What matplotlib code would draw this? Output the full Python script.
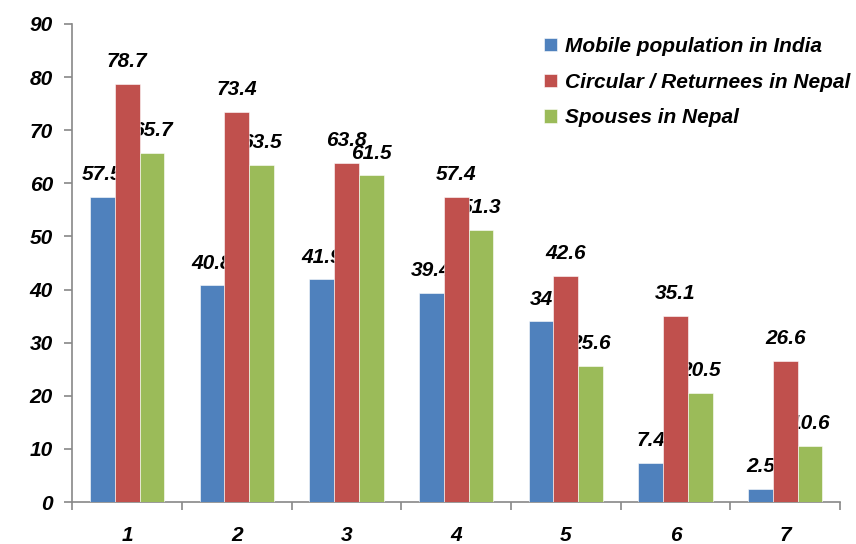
import numpy as np
import matplotlib
matplotlib.use("Agg")
import matplotlib.pyplot as plt

plt.rcParams['font.family'] = ['Liberation Sans', 'DejaVu Sans']

categories = ['1', '2', '3', '4', '5', '6', '7']
series_names = ['Mobile population in India',
                'Circular / Returnees in Nepal',
                'Spouses in Nepal']
mobile_india = [57.5, 40.8, 41.9, 39.4, 34, 7.4, 2.5]
returnees_nepal = [78.7, 73.4, 63.8, 57.4, 42.6, 35.1, 26.6]
spouses_nepal = [65.7, 63.5, 61.5, 51.3, 25.6, 20.5, 10.6]
colors = ['#4F81BD', '#C0504D', '#9BBB59']

fig = plt.figure(figsize=(8.56, 5.44), dpi=100)
ax = fig.add_axes([0.0845, 0.0772, 0.9813 - 0.0845, 0.9559 - 0.0772])

x = np.arange(len(categories))
width = 0.226
values = [mobile_india, returnees_nepal, spouses_nepal]

for i, (vals, name, c) in enumerate(zip(values, series_names, colors)):
    pos = x + (i - 1) * width
    ax.bar(pos, vals, width, color=c, label=name, zorder=3,
           edgecolor='white', linewidth=0.4)
    # value labels sit behind the bars, like the original
    for xp, v in zip(pos, vals):
        ax.annotate('%g' % v, (xp, v), xytext=(0, 16),
                    textcoords='offset points', ha='center', va='center',
                    fontsize=15, fontweight='bold', fontstyle='italic',
                    zorder=1)

ax.set_xlim(-0.5, len(categories) - 0.5)
ax.set_ylim(0, 90)
ax.set_yticks(range(0, 91, 10))

ax.set_xticks(x)
ax.set_xticklabels(categories)
ax.set_xticks(np.arange(-0.5, len(categories), 1.0), minor=True)
ax.tick_params(axis='x', which='major', length=0, pad=17)
ax.tick_params(axis='x', which='minor', length=6, color='#888888', width=1.2)
ax.tick_params(axis='y', length=6, color='#888888', width=1.2, pad=8)

for lab in ax.get_xticklabels() + ax.get_yticklabels():
    lab.set_fontsize(15)
    lab.set_fontweight('bold')
    lab.set_fontstyle('italic')

for s in ['top', 'right']:
    ax.spines[s].set_visible(False)
for s in ['left', 'bottom']:
    ax.spines[s].set_color('#888888')
    ax.spines[s].set_linewidth(1.2)

leg = ax.legend(loc='upper right', bbox_to_anchor=(1.038, 1.012), frameon=False,
                prop={'size': 15, 'weight': 'bold', 'style': 'italic'},
                handlelength=0.6, handleheight=0.6, handletextpad=0.4,
                labelspacing=0.8)

fig.savefig('out.png', dpi=100)
